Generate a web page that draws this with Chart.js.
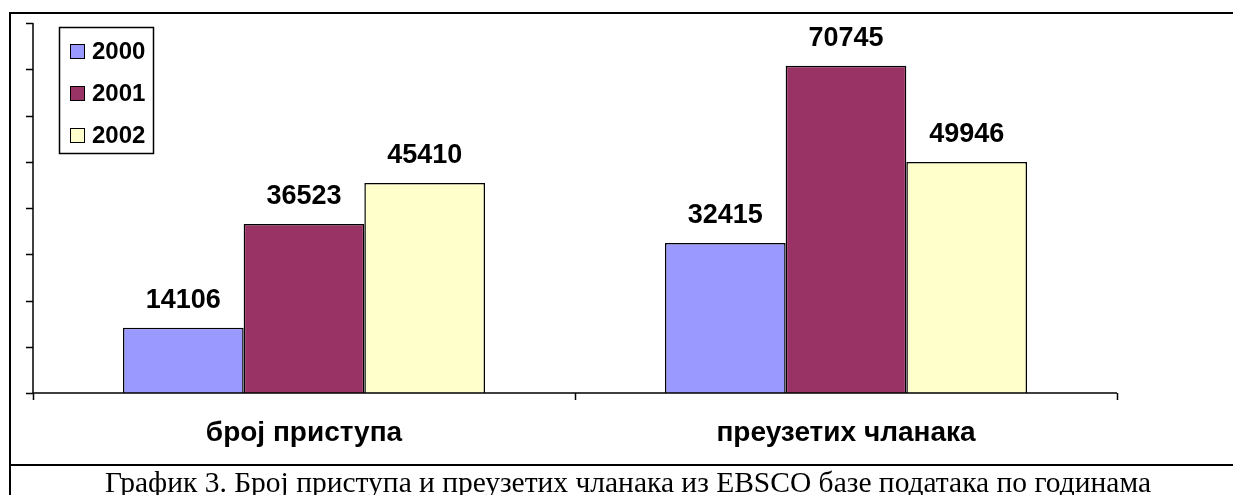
<!DOCTYPE html>
<html>
<head>
<meta charset="utf-8">
<script src="https://cdn.jsdelivr.net/npm/chart.js@4/dist/chart.umd.min.js"></script>
<style>
  html, body { margin: 0; padding: 0; background: #fff; }
  #wrap { width: 1233px; height: 495px; position: relative; }
</style>
</head>
<body>
<div id="wrap"><canvas id="chart" width="1233" height="495"></canvas></div>
<script>
const categories = ["број приступа", "преузетих чланака"];
const years = ["2000", "2001", "2002"];
const values2000 = [14106, 32415];
const values2001 = [36523, 70745];
const values2002 = [45410, 49946];
const yTickStep = 10000;
const yMax = 80000;
const caption = "График 3. Број приступа и преузетих чланака из EBSCO базе података по годинама";

const colors = ["#9999FF", "#993366", "#FFFFCC"];

// frame, axes, labels, legend and caption
const decorPlugin = {
  id: "decor",
  beforeDraw(chart) {
    const c = chart.ctx;
    c.save();
    c.fillStyle = "#fff";
    c.fillRect(0, 0, chart.width, chart.height);
    c.restore();
  },
  afterDatasetsDraw(chart) {
    const c = chart.ctx;
    const area = chart.chartArea;
    const xs = chart.scales.x;
    const ys = chart.scales.y;
    c.save();

    // outer frame (table cell)
    c.strokeStyle = "#000";
    c.lineWidth = 2;
    c.beginPath();
    c.moveTo(10, chart.height);
    c.lineTo(10, 13);
    c.lineTo(chart.width, 13);
    c.moveTo(10, 465);
    c.lineTo(chart.width, 465);
    c.stroke();

    // axes
    c.lineWidth = 1.5;
    c.beginPath();
    c.moveTo(area.left, area.top);
    c.lineTo(area.left, area.bottom);
    c.lineTo(area.right, area.bottom);
    for (let v = 0; v <= yMax; v += yTickStep) {
      const y = Math.round(ys.getPixelForValue(v)) + 0.5;
      c.moveTo(area.left - 7, y);
      c.lineTo(area.left, y);
    }
    const n = categories.length;
    const catW = (area.right - area.left) / n;
    for (let i = 0; i <= n; i++) {
      const x = Math.round(area.left + i * catW) + 0.5;
      c.moveTo(x, area.bottom);
      c.lineTo(x, area.bottom + 7);
    }
    c.stroke();

    // value labels
    c.fillStyle = "#000";
    c.font = "bold 27px 'Liberation Sans', Arial, sans-serif";
    c.textAlign = "center";
    c.textBaseline = "bottom";
    chart.data.datasets.forEach((ds, di) => {
      const meta = chart.getDatasetMeta(di);
      meta.data.forEach((el, i) => {
        c.fillText(String(ds.data[i]), el.x, el.y - 14);
      });
    });

    // category labels
    c.font = "bold 28px 'Liberation Sans', Arial, sans-serif";
    c.textBaseline = "alphabetic";
    categories.forEach((cat, i) => {
      c.fillText(cat, xs.getPixelForValue(i), 441);
    });

    // legend
    c.lineWidth = 1.5;
    c.strokeRect(59.5, 27.5, 94, 126);
    c.font = "bold 24px 'Liberation Sans', Arial, sans-serif";
    c.textAlign = "left";
    c.textBaseline = "middle";
    chart.data.datasets.forEach((ds, di) => {
      const cy = 51 + di * 42;
      c.fillStyle = ds.backgroundColor;
      c.fillRect(70, cy - 7, 14, 14);
      c.lineWidth = 1;
      c.strokeRect(70.5, cy - 6.5, 14, 14);
      c.fillStyle = "#000";
      c.fillText(ds.label, 92, cy + 1);
    });

    // caption
    c.font = "29.5px 'Liberation Serif', 'Times New Roman', serif";
    c.textAlign = "center";
    c.textBaseline = "alphabetic";
    c.fillText(caption, 628, 492);

    c.restore();
  }
};

new Chart(document.getElementById("chart"), {
  type: "bar",
  data: {
    labels: categories,
    datasets: [
      { label: years[0], data: values2000, backgroundColor: colors[0], borderColor: "#000", borderWidth: 1.5 },
      { label: years[1], data: values2001, backgroundColor: colors[1], borderColor: "#000", borderWidth: 1.5 },
      { label: years[2], data: values2002, backgroundColor: colors[2], borderColor: "#000", borderWidth: 1.5 },
    ],
  },
  options: {
    responsive: false,
    animation: false,
    devicePixelRatio: 1,
    layout: { padding: { left: 33, right: 116, top: 23, bottom: 102 } },
    datasets: { bar: { categoryPercentage: 0.668, barPercentage: 1 } },
    plugins: { legend: { display: false }, tooltip: { enabled: false } },
    scales: {
      x: { display: false },
      y: { display: false, min: 0, max: yMax, ticks: { stepSize: yTickStep } },
    },
  },
  plugins: [decorPlugin],
});
</script>
</body>
</html>
